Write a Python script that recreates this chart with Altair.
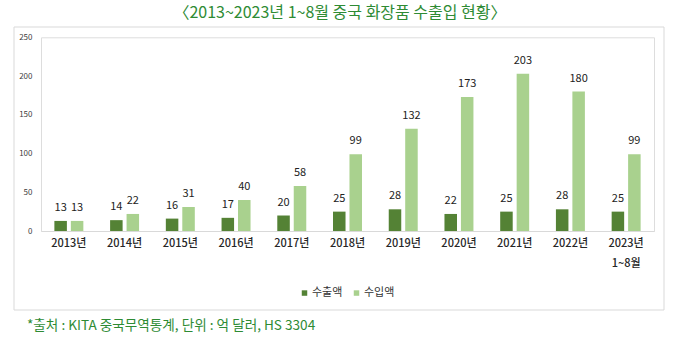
import altair as alt
import pandas as pd

years = ["2013년", "2014년", "2015년", "2016년", "2017년", "2018년",
         "2019년", "2020년", "2021년", "2022년", "2023년\n1~8월"]
series = ["수출액", "수입액"]
exports = [13, 14, 16, 17, 20, 25, 28, 22, 25, 28, 25]
imports = [13, 22, 31, 40, 58, 99, 132, 173, 203, 180, 99]
y_ticks = [0, 50, 100, 150, 200, 250]
title_text = "〈2013~2023년 1~8월 중국 화장품 수출입 현황〉"
footer_text = "*출처 : KITA 중국무역통계, 단위 : 억 달러, HS 3304"

FONT = "Noto Sans CJK KR"
DARK = "#548235"
LIGHT = "#a9d18e"
GREEN_TXT = "#2e8b34"

rows = []
for i, y in enumerate(years):
    rows.append({"연도": y, "구분": series[0], "값": exports[i]})
    rows.append({"연도": y, "구분": series[1], "값": imports[i]})
df = pd.DataFrame(rows)

# plot area origin in page pixels
OX, OY = 41, 37.3
W, H = 613, 193.7

base = alt.Chart(df).encode(
    x=alt.X("연도:N", sort=years,
            scale=alt.Scale(paddingInner=0.48, paddingOuter=0.24),
            axis=alt.Axis(title=None, labelExpr="split(datum.label, '\\n')",
                          labelAngle=0, labelFont=FONT, labelFontSize=11,
                          labelFontWeight=500, labelColor="#262626",
                          labelLineHeight=20, labelPadding=6,
                          ticks=False, domainColor="#d9d9d9", domainWidth=1)),
    xOffset=alt.XOffset("구분:N", sort=series,
                        scale=alt.Scale(paddingInner=0.24, paddingOuter=0)),
    y=alt.Y("값:Q", scale=alt.Scale(domain=[0, 250], nice=False),
            axis=alt.Axis(title=None, values=y_ticks, grid=False, domain=False,
                          ticks=False, labelFont=FONT, labelFontSize=8,
                          labelColor="#404040", labelPadding=9)),
)

bars = base.mark_bar().encode(
    color=alt.Color("구분:N", sort=series,
                    scale=alt.Scale(domain=series, range=[DARK, LIGHT]),
                    legend=alt.Legend(title=None, orient="none", direction="horizontal",
                                      legendX=258, legendY=250,
                                      symbolType="square", symbolSize=30,
                                      symbolStrokeWidth=0, labelFont=FONT,
                                      labelFontSize=11, labelColor="#333333",
                                      labelOffset=2, columnPadding=8))
)

labels = base.mark_text(dy=-13, baseline="middle", font=FONT, fontSize=11,
                        color="#222222").encode(text="값:Q")

one = pd.DataFrame({"t": [title_text], "f": [footer_text]})

border = alt.Chart(one).mark_rect(fill=None, stroke="#d9d9d9", strokeWidth=1).encode(
    x=alt.value(14 - OX), x2=alt.value(664 - OX),
    y=alt.value(27 - OY), y2=alt.value(310 - OY))

title = alt.Chart(one).mark_text(align="center", baseline="middle", font=FONT,
                                 fontSize=16, color=GREEN_TXT).encode(
    x=alt.value(340 - OX), y=alt.value(13 - OY), text="t:N")

footer = alt.Chart(one).mark_text(align="left", baseline="middle", font=FONT,
                                  fontSize=13.6, color=GREEN_TXT).encode(
    x=alt.value(27 - OX), y=alt.value(326 - OY), text="f:N")

chart = alt.layer(border, bars, labels, title, footer).properties(
    width=W, height=H,
    autosize=alt.AutoSizeParams(type="none"),
    padding={"left": OX, "top": OY, "right": 679 - OX - W, "bottom": 345 - OY - H},
).configure_view(stroke=None).configure(background="white")

chart.save("out.html", embed_options={"renderer": "svg", "actions": False})
